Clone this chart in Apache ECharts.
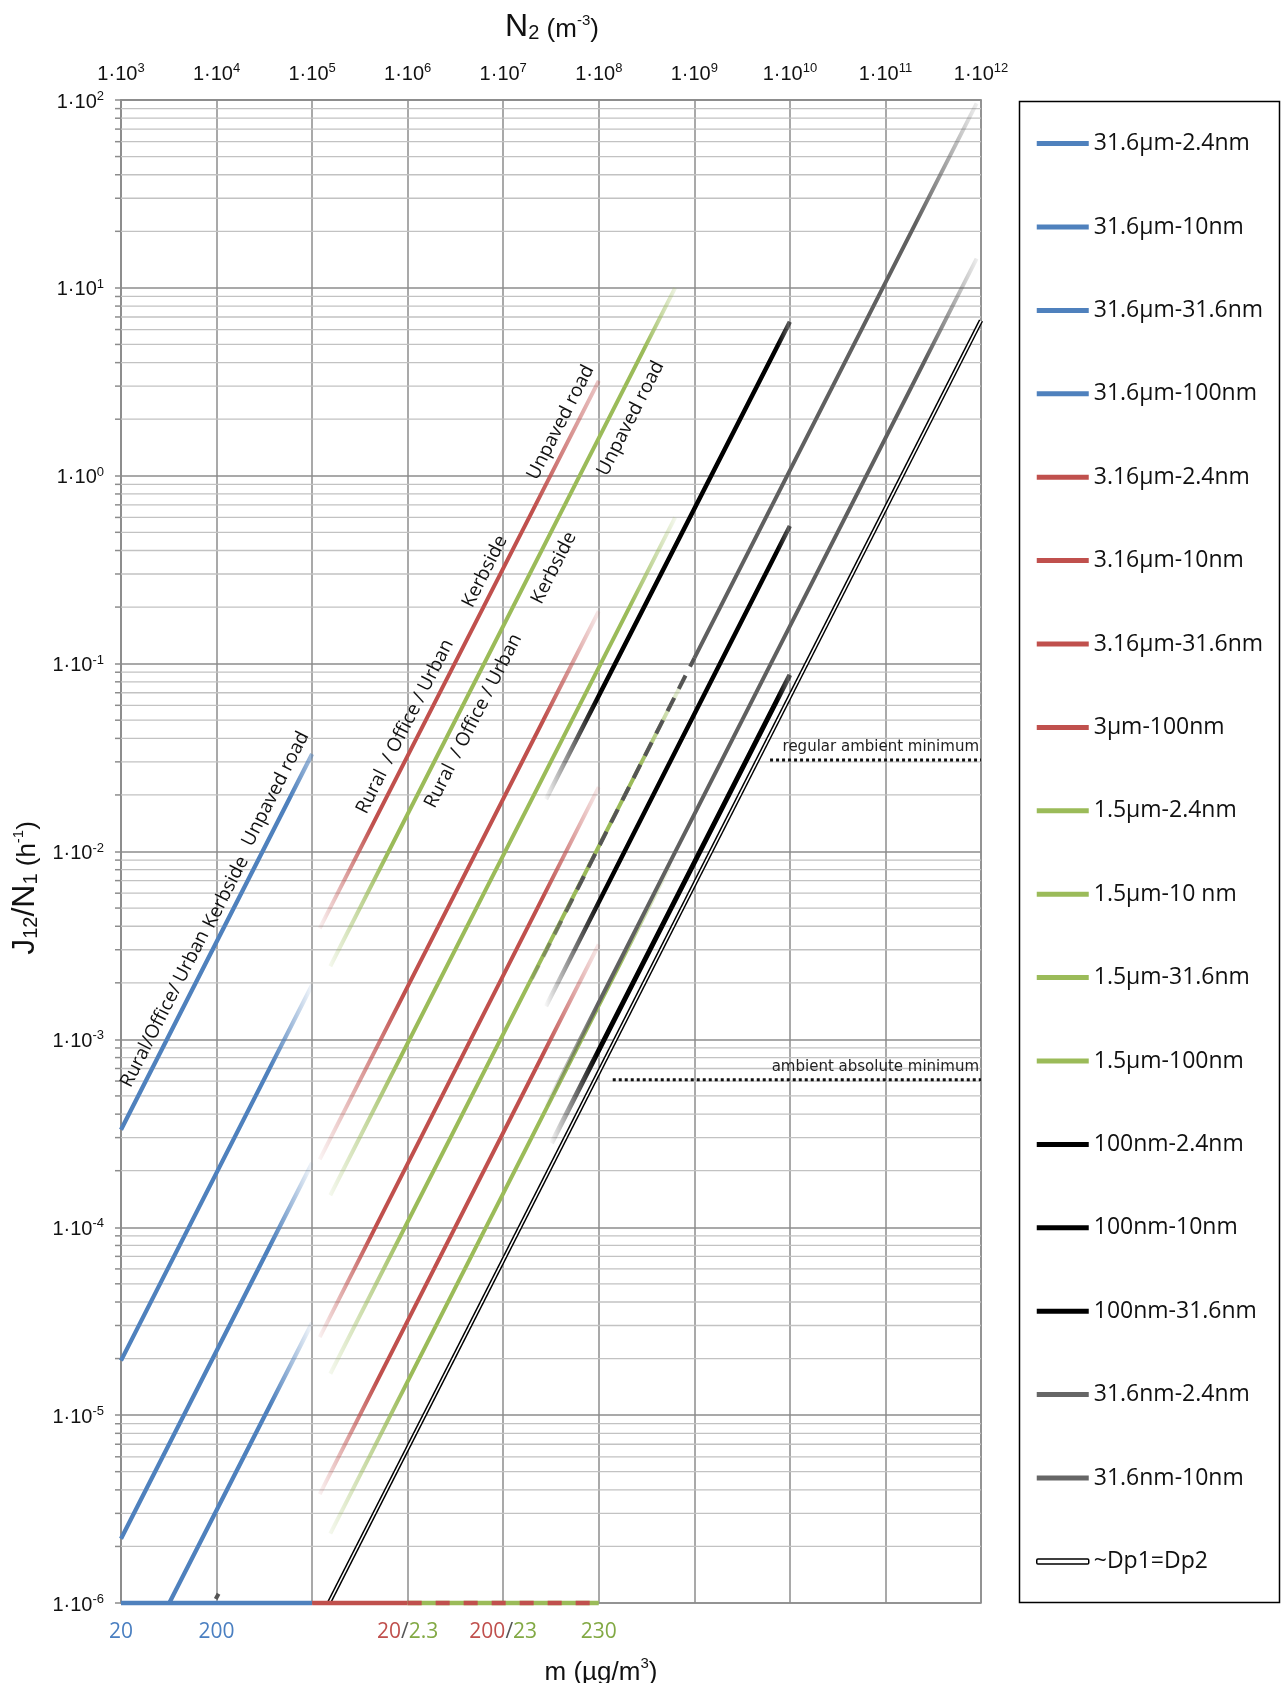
<!DOCTYPE html>
<html>
<head>
<meta charset="utf-8">
<title>J12/N1 versus N2</title>
<script src="https://cdn.jsdelivr.net/npm/echarts@6.0.0/dist/echarts.min.js"></script>
<style>
  html, body { margin: 0; padding: 0; background: #ffffff; }
  #chart { width: 1282px; height: 1683px; }
</style>
</head>
<body>
<div id="chart"></div>
<script>
// Axis ranges
const n2Range = [1e3, 1e12];   // N2 (m^-3)
const jRange = [1e-6, 1e2];    // J12/N1 (h^-1)

// Curves, in legend order
const curveNames = [
  '31.6µm-2.4nm', '31.6µm-10nm', '31.6µm-31.6nm', '31.6µm-100nm',
  '3.16µm-2.4nm', '3.16µm-10nm', '3.16µm-31.6nm', '3µm-100nm',
  '1.5µm-2.4nm', '1.5µm-10 nm', '1.5µm-31.6nm', '1.5µm-100nm',
  '100nm-2.4nm', '100nm-10nm', '100nm-31.6nm',
  '31.6nm-2.4nm', '31.6nm-10nm', '~Dp1=Dp2'
];

// First and last point of each curve: [N2, J12/N1]
const curveStart = [
  [1e3, 3.3e-4], [1e3, 1.95e-5], [1e3, 2.2e-6], [3.2e3, 1e-6],
  [1.2e5, 3.9e-3], [1.2e5, 2.3e-4], [1.2e5, 2.6e-5], [1.2e5, 3.8e-6],
  [1.55e5, 2.45e-3], [1.55e5, 1.48e-4], [1.55e5, 1.66e-5], [1.55e5, 2.34e-6],
  [2.8e7, 1.9e-2], [2.8e7, 1.5e-3], [3.2e7, 2.8e-4],
  [1e9, 0.107], [2.8e7, 4.4e-4], [1.5e5, 1e-6]
];
const curveEnd = [
  [1e5, 3.3e-2], [1e5, 1.95e-3], [1e5, 2.2e-4], [1e5, 3.1e-5],
  [1e8, 3.2], [1e8, 0.19], [1e8, 2.2e-2], [1e8, 3.2e-3],
  [6.3e8, 10], [6.3e8, 0.6], [8e8, 8.5e-2], [5.6e8, 8.5e-3],
  [1e10, 6.6], [1e10, 0.54], [1e10, 8.7e-2],
  [9e11, 96], [9e11, 14.3], [1e12, 6.7]
];

// Dashed stretch of the 31.6nm-2.4nm curve, and its short stub near N2 = 1e4
const dashedStart = [2e7, 2.1e-3];
const dashedEnd = [1e9, 0.107];
const stubStart = [9.8e3, 1.05e-6];
const stubEnd = [1.05e4, 1.12e-6];

// Mass concentration scale drawn along the bottom edge
const massBlueSpan = [[1e3, 1e-6], [1e5, 1e-6]];
const massRedSpan = [[1e5, 1e-6], [1e6, 1e-6]];
const massMixedSpan = [[1e6, 1e-6], [1e8, 1e-6]];
const massTickN2 = [1e3, 1e4, 1e6, 1e7, 1e8];
const massTickBlue = ['20', '200', '', '', ''];
const massTickRed = ['', '', '20', '200', ''];
const massTickGreen = ['', '', '2.3', '23', '230'];

// Reference levels
const regularMinimum = [[6.2e9, 0.0307], [1e12, 0.0307]];
const absoluteMinimum = [[1.4e8, 6.1e-4], [1e12, 6.1e-4]];

// Environment labels along the curves: [log10 N2, log10 J12/N1] of the text centre
const sceneLabelText = [
  'Rural/Office/ Urban', 'Kerbside', 'Unpaved road',
  'Rural  / Office / Urban', 'Kerbside', 'Unpaved road',
  'Rural  / Office / Urban', 'Kerbside', 'Unpaved road'
];
const sceneLabelAt = [
  [3.46, -2.838], [4.099, -2.218], [4.619, -1.667],
  [5.972, -1.335], [6.809, -0.510], [7.601, 0.284],
  [6.687, -1.305], [7.531, -0.491], [8.334, 0.305]
];

// ---- styles ----
const BLUE = '#4f81bd', RED = '#c0504d', GREEN = '#9bbb59', BLACK = '#000000', GREY = '#606060';
const curveColors = [BLUE, BLUE, BLUE, BLUE, RED, RED, RED, RED, GREEN, GREEN, GREEN, GREEN,
  BLACK, BLACK, BLACK, GREY, GREY, BLACK];
const legendColors = [BLUE, BLUE, BLUE, BLUE, RED, RED, RED, RED, GREEN, GREEN, GREEN, GREEN,
  BLACK, BLACK, BLACK, '#666666', '#666666', BLACK];
const curveWidths = [4.3, 4.3, 4.3, 4.3, 4, 4, 4, 4, 4, 4, 4, 4, 4.5, 4.5, 5, 4, 4, 4.5];
// fade-in: [log10 N2 where full strength is reached, opacity at the start]
const curveFadeIn = [null, null, null, null,
  [5.65, 0.04], [5.95, 0.04], [5.65, 0.04], [5.7, 0.04],
  [5.8, 0.08], [5.95, 0.08], [6.0, 0.08], [6.0, 0.08],
  [8.0, 0], [8.05, 0], [8.0, 0], null, [8.0, 0], null];
// fade-out: [log10 N2 where fading starts, opacity at the end]
const curveFadeOut = [[4.75, 0.45], [4.55, 0], [4.55, 0], [4.55, 0],
  [7.3, 0.3], [7.4, 0.08], [7.4, 0.08], [7.4, 0.08],
  [8.45, 0.12], [8.3, 0.08], [8.4, 0.08], [8.2, 0.08],
  [9.85, 0.5], [9.85, 0.5], [9.85, 0.5], [11.3, 0.08], [11.4, 0.08], null];

const TICK_FONT = "'Liberation Sans', Arial, sans-serif";
const TEXT_FONT = "'Open Sans', 'Noto Sans', sans-serif";
const NOTE_FONT = "'DejaVu Sans', sans-serif";
const GRID_MAJOR = '#8c8c8c';
const GRID_MINOR = '#c2c2c2';

const log10 = Math.log10;

function withAlpha(hex, a) {
  const n = parseInt(hex.slice(1), 16);
  return 'rgba(' + ((n >> 16) & 255) + ',' + ((n >> 8) & 255) + ',' + (n & 255) + ',' + a + ')';
}

// Colour running along a segment, with optional fading ends (positions in log10 N2)
function fadeColor(hex, p0, p1, fadeIn, fadeOut) {
  if (!fadeIn && !fadeOut) return hex;
  const a = log10(p0[0]), b = log10(p1[0]);
  const at = v => Math.min(1, Math.max(0, (v - a) / (b - a)));
  const stops = [];
  if (fadeIn) {
    stops.push({ offset: 0, color: withAlpha(hex, fadeIn[1]) });
    stops.push({ offset: at(fadeIn[0]), color: withAlpha(hex, 1) });
  } else {
    stops.push({ offset: 0, color: withAlpha(hex, 1) });
  }
  if (fadeOut) {
    stops.push({ offset: at(fadeOut[0]), color: withAlpha(hex, 1) });
    stops.push({ offset: 1, color: withAlpha(hex, fadeOut[1]) });
  } else {
    stops.push({ offset: 1, color: withAlpha(hex, 1) });
  }
  return new echarts.graphic.LinearGradient(0, 0, 1, 0, stops);
}

// Minor grid levels 2..9 within every decade of the vertical axis
const minorLevels = [];
for (let e = log10(jRange[0]); e < log10(jRange[1]); e++) {
  for (let m = 2; m <= 9; m++) minorLevels.push(Number((m * Math.pow(10, e)).toPrecision(3)));
}

function lineSeries(name, data, color, width, z, extra) {
  return Object.assign({
    name: name,
    type: 'line',
    data: data,
    symbol: 'none',
    showSymbol: false,
    silent: true,
    animation: false,
    z: z,
    itemStyle: { color: typeof color === 'string' ? color : BLACK },
    lineStyle: { width: width, color: color, cap: 'butt' },
    emphasis: { disabled: true }
  }, extra || {});
}

const series = [];

// minor horizontal grid lines and their ticks on the left edge
series.push({
  type: 'custom',
  name: 'minor grid',
  silent: true,
  animation: false,
  z: 1,
  clip: false,
  data: minorLevels.map(v => [n2Range[0], v]),
  renderItem: function (params, api) {
    const cs = params.coordSys;
    const y = api.coord([n2Range[0], api.value(1)])[1];
    return {
      type: 'group',
      children: [
        { type: 'line', shape: { x1: cs.x, y1: y, x2: cs.x + cs.width, y2: y },
          style: { stroke: GRID_MINOR, lineWidth: 1.3 } },
        { type: 'line', shape: { x1: cs.x - 6, y1: y, x2: cs.x, y2: y },
          style: { stroke: GRID_MAJOR, lineWidth: 1.5 } }
      ]
    };
  }
});

curveNames.forEach(function (name, i) {
  const col = fadeColor(curveColors[i], curveStart[i], curveEnd[i], curveFadeIn[i], curveFadeOut[i]);
  const s = lineSeries(name, [curveStart[i], curveEnd[i]], col, curveWidths[i], i >= 12 ? 4 : 3);
  s.itemStyle.color = curveColors[i];
  series.push(s);
});

// dashed stretch of 31.6nm-2.4nm over the green curve, plus its stub
series.push(lineSeries('31.6nm-2.4nm', [dashedStart, dashedEnd],
  fadeColor('#555555', dashedStart, dashedEnd, [7.8, 0.15], null), 4, 5,
  { lineStyle: { width: 4, type: [15, 10], cap: 'butt',
    color: fadeColor('#555555', dashedStart, dashedEnd, [7.8, 0.15], null) } }));
series.push(lineSeries('31.6nm-2.4nm', [stubStart, stubEnd], '#555555', 4, 5));

// white core of the double line
series.push(lineSeries('~Dp1=Dp2', [curveStart[17], curveEnd[17]], '#ffffff', 1.6, 7));

// mass scale along the bottom edge
series.push(lineSeries('mass scale blue', massBlueSpan, BLUE, 4.5, 8, { clip: false }));
series.push(lineSeries('mass scale red', massRedSpan, RED, 4.5, 8, { clip: false }));
series.push(lineSeries('mass scale green', massMixedSpan, GREEN, 4.5, 8, { clip: false }));
series.push(lineSeries('mass scale red dashes', massMixedSpan, RED, 4.5, 9,
  { clip: false, lineStyle: { width: 4.5, color: RED, type: [14, 14], cap: 'butt' } }));

// reference levels
series.push(lineSeries('regular ambient minimum', regularMinimum, '#111111', 3, 6,
  { lineStyle: { width: 3, color: '#111111', type: [3, 3], cap: 'butt' } }));
series.push(lineSeries('ambient absolute minimum', absoluteMinimum, '#111111', 3, 6,
  { lineStyle: { width: 3, color: '#111111', type: [3, 3], cap: 'butt' } }));

function expLabel(v) {
  return '{b|1·10}{s|' + Math.round(log10(v)) + '}';
}

function massLabel(v) {
  const k = massTickN2.findIndex(t => Math.abs(log10(t) - log10(v)) < 0.01);
  if (k < 0) return '';
  const parts = [];
  if (massTickBlue[k]) parts.push('{bl|' + massTickBlue[k] + '}');
  if (massTickRed[k]) parts.push('{rd|' + massTickRed[k] + '}');
  if (massTickRed[k] && massTickGreen[k]) parts.push('{sl|/}');
  if (massTickGreen[k]) parts.push('{gr|' + massTickGreen[k] + '}');
  return parts.join('');
}

const tickRich = {
  b: { fontFamily: TICK_FONT, fontSize: 20, color: '#111', lineHeight: 24, verticalAlign: 'bottom' },
  s: { fontFamily: TICK_FONT, fontSize: 13, color: '#111', verticalAlign: 'top', padding: [2, 0, 0, 0] }
};

const massFont = { fontFamily: TEXT_FONT, fontSize: 21, lineHeight: 26 };

const option = {
  backgroundColor: '#ffffff',
  animation: false,
  grid: {
    left: 121, top: 100, width: 860, height: 1503,
    containLabel: false,
    outerBoundsMode: 'none',
    show: true,
    borderColor: GRID_MAJOR,
    borderWidth: 1.5,
    backgroundColor: 'transparent'
  },
  legend: {
    orient: 'vertical',
    left: 1036,
    top: 131.6,
    padding: 0,
    itemWidth: 52,
    itemHeight: 5,
    itemGap: 59.4,
    icon: 'rect',
    selectedMode: false,
    textStyle: { fontFamily: TEXT_FONT, fontSize: 23, color: '#111', lineHeight: 24 },
    data: curveNames.map(function (name, i) {
      if (i === 17) {
        return { name: name, icon: 'roundRect',
          itemStyle: { color: '#ffffff', borderColor: '#000000', borderWidth: 1.5 } };
      }
      return { name: name, itemStyle: { color: legendColors[i], borderWidth: 0 } };
    })
  },
  xAxis: [
    {
      type: 'log', logBase: 10, min: n2Range[0], max: n2Range[1], splitNumber: 10,
      position: 'top',
      axisLine: { show: true, lineStyle: { color: GRID_MAJOR, width: 1.5 } },
      axisTick: { show: false },
      axisLabel: { margin: 16, formatter: expLabel, rich: tickRich },
      splitLine: { show: true, lineStyle: { color: GRID_MAJOR, width: 1.5 } },
      minorTick: { show: false },
      minorSplitLine: { show: false }
    },
    {
      type: 'log', logBase: 10, min: n2Range[0], max: n2Range[1], splitNumber: 10,
      position: 'bottom',
      axisLine: { show: false },
      axisTick: { show: false },
      splitLine: { show: false },
      axisLabel: {
        margin: 16,
        formatter: massLabel,
        rich: {
          bl: Object.assign({ color: '#4a7fc1' }, massFont),
          rd: Object.assign({ color: '#c0504d' }, massFont),
          gr: Object.assign({ color: '#82a944' }, massFont),
          sl: Object.assign({ color: '#555555' }, massFont)
        }
      }
    }
  ],
  yAxis: {
    type: 'log', logBase: 10, min: jRange[0], max: jRange[1], splitNumber: 10,
    axisLine: { show: true, lineStyle: { color: GRID_MAJOR, width: 1.5 } },
    axisTick: { show: true, length: 6, lineStyle: { color: GRID_MAJOR, width: 1.5 } },
    axisLabel: { margin: 17, formatter: expLabel, rich: tickRich },
    splitLine: { show: true, lineStyle: { color: GRID_MAJOR, width: 1.5 } },
    minorTick: { show: false },
    minorSplitLine: { show: false }
  },
  series: series
};

const chart = echarts.init(document.getElementById('chart'), null, { renderer: 'canvas' });
chart.setOption(option);

// Text placed through the chart's own scales
const toPx = p => chart.convertToPixel({ gridIndex: 0 }, p);
const pa = toPx([1e4, 1e-4]), pb = toPx([1e5, 1e-3]);
const slopeAngle = Math.atan2(pa[1] - pb[1], pb[0] - pa[0]);

const graphics = [];

sceneLabelText.forEach(function (text, i) {
  const p = toPx([Math.pow(10, sceneLabelAt[i][0]), Math.pow(10, sceneLabelAt[i][1])]);
  graphics.push({
    type: 'text', x: p[0], y: p[1], rotation: slopeAngle, silent: true, z: 20,
    style: { text: text, fontFamily: TEXT_FONT, fontSize: 19, fill: '#111',
      align: 'center', verticalAlign: 'middle' }
  });
});

const rEnd = toPx(regularMinimum[1]);
graphics.push({
  type: 'text', x: rEnd[0] - 2, y: rEnd[1] - 5, silent: true, z: 20,
  style: { text: 'regular ambient minimum', fontFamily: NOTE_FONT, fontSize: 15, fill: '#222',
    align: 'right', verticalAlign: 'bottom' }
});
const aEnd = toPx(absoluteMinimum[1]);
graphics.push({
  type: 'text', x: aEnd[0] - 2, y: aEnd[1] - 5, silent: true, z: 20,
  style: { text: 'ambient absolute minimum', fontFamily: NOTE_FONT, fontSize: 15, fill: '#222',
    align: 'right', verticalAlign: 'bottom' }
});

const titleRich = {
  n: { fontFamily: TICK_FONT, fontSize: 32, lineHeight: 38, verticalAlign: 'bottom', fill: '#111', color: '#111' },
  sub: { fontFamily: TICK_FONT, fontSize: 20, lineHeight: 22, verticalAlign: 'bottom', fill: '#111', color: '#111' },
  u: { fontFamily: TICK_FONT, fontSize: 26, lineHeight: 38, verticalAlign: 'bottom', fill: '#111', color: '#111' },
  sup: { fontFamily: TICK_FONT, fontSize: 15, verticalAlign: 'top', padding: [8, 0, 0, 0], fill: '#111', color: '#111' }
};

// axis titles
graphics.push({
  type: 'text', x: 552, y: 24, silent: true,
  style: { text: '{n|N}{sub|2}{u| (m}{sup|-3}{u|)}', rich: titleRich,
    align: 'center', verticalAlign: 'middle' }
});
graphics.push({
  type: 'text', x: 22, y: 888, rotation: Math.PI / 2, silent: true,
  style: { text: '{n|J}{sub|12}{n|/N}{sub|1}{u| (h}{sup|-1}{u|)}', rich: titleRich,
    align: 'center', verticalAlign: 'middle' }
});
graphics.push({
  type: 'text', x: 601, y: 1667, silent: true,
  style: { text: '{u|m (µg/m}{sup|3}{u|)}', rich: titleRich,
    align: 'center', verticalAlign: 'middle' }
});

// legend frame
graphics.push({
  type: 'rect', silent: true, z: 0,
  shape: { x: 1019.5, y: 101.5, width: 260, height: 1501 },
  style: { fill: 'none', stroke: '#000', lineWidth: 1.5 }
});

chart.setOption({ graphic: graphics });
</script>
</body>
</html>
